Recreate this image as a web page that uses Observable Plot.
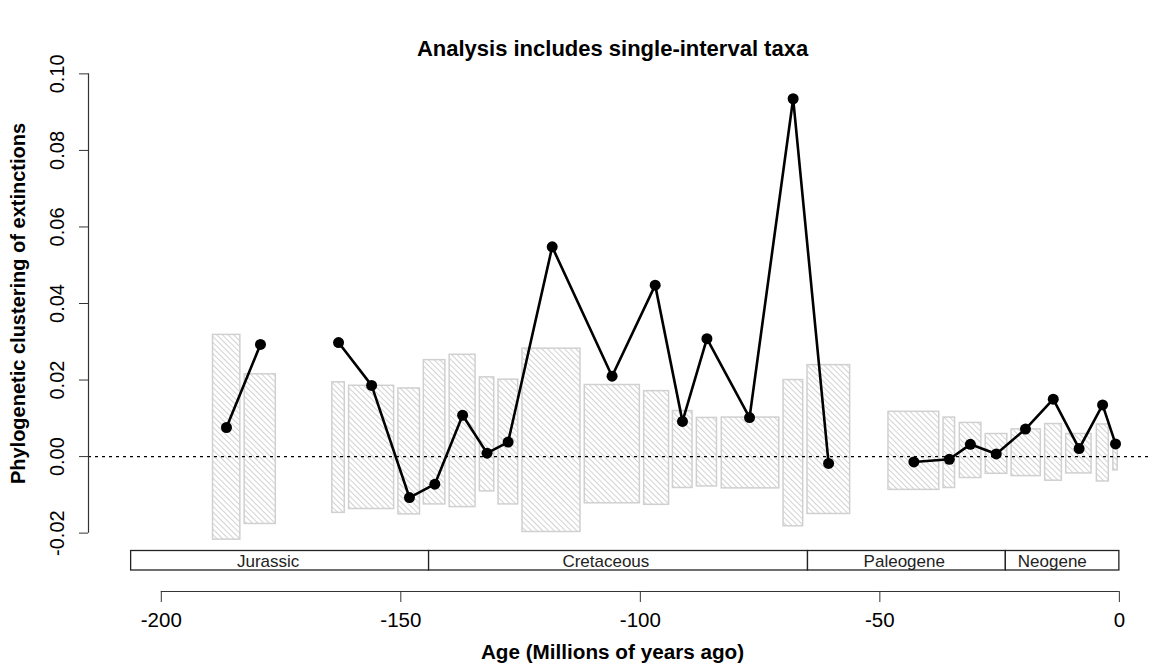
<!DOCTYPE html>
<html><head><meta charset="utf-8">
<script src="https://cdn.jsdelivr.net/npm/d3@7"></script>
<script src="https://cdn.jsdelivr.net/npm/@observablehq/plot@0.6"></script>
<style>
body{margin:0;background:#fff;}
#chart{width:1153px;height:672px;}
</style></head><body>
<svg width="0" height="0" style="position:absolute">
<defs>
<pattern id="hatch" patternUnits="userSpaceOnUse" width="4" height="4" patternTransform="rotate(-45)">
<rect width="4" height="4" fill="#ffffff"/>
<line x1="0" y1="0" x2="0" y2="4" stroke="#b4b4b4" stroke-width="1.2"/>
</pattern>
</defs></svg>
<div id="chart"></div>
<script>
// ---- data ----
const stageStart = [-189.2,-182.6,-164.3,-160.8,-150.5,-145.2,-139.8,-133.5,-129.6,-124.6,-111.6,-99.2,-93.2,-88.2,-83.0,-70.1,-65.1,-48.2,-36.7,-33.3,-27.9,-22.5,-15.5,-11.1,-4.7,-1.25];
const stageEnd   = [-183.5,-176.1,-161.7,-151.4,-146.0,-140.7,-134.4,-130.5,-125.5,-112.5,-100.1,-94.0,-89.1,-84.0,-71.0,-66.0,-56.2,-37.6,-34.3,-28.8,-23.4,-16.4,-12.0,-5.8,-2.2,-0.35];
const nullHigh   = [0.0318,0.0215,0.0194,0.0185,0.0178,0.0252,0.0266,0.0207,0.0201,0.0282,0.0187,0.0171,0.0119,0.0101,0.0102,0.0200,0.0239,0.0117,0.0102,0.0088,0.0059,0.0071,0.0085,0.0059,0.0084,0.0031];
const nullLow    = [-0.0217,-0.0176,-0.0147,-0.0137,-0.0151,-0.0125,-0.0132,-0.0091,-0.0125,-0.0197,-0.0122,-0.0126,-0.0082,-0.0078,-0.0083,-0.0182,-0.0150,-0.0087,-0.0082,-0.0056,-0.0045,-0.0051,-0.0063,-0.0044,-0.0065,-0.0036];
const stageAge   = [-186.4,-179.3,-163.0,-156.1,-148.2,-142.9,-137.1,-132.0,-127.6,-118.4,-105.9,-96.9,-91.2,-86.1,-77.2,-68.1,-60.7,-42.9,-35.5,-31.1,-25.7,-19.6,-13.8,-8.4,-3.5,-0.8];
const clustering = [0.0076,0.0293,0.0298,0.0186,-0.0107,-0.0072,0.0108,0.0009,0.0038,0.0548,0.0210,0.0448,0.0092,0.0308,0.0102,0.0935,-0.0018,-0.0014,-0.0007,0.0032,0.0007,0.0072,0.0150,0.0021,0.0135,0.0033];
const runId      = [1,1,2,2,2,2,2,2,2,2,2,2,2,2,2,2,2,3,3,3,3,3,3,3,3,3];

const eraName    = ["Jurassic","Cretaceous","Paleogene","Neogene"];
const eraStart   = [-206.3,-144.1,-65.0,-23.7];
const eraEnd     = [-144.1,-65.0,-23.7,0];
const eraLabelAt = [-177.7,-107.2,-44.9,-14.0];

const xTicks = [-200,-150,-100,-50,0];
const yTicks = [-0.02,0.00,0.02,0.04,0.06,0.08,0.10];

const titleText = "Analysis includes single-interval taxa";
const xLabel = "Age (Millions of years ago)";
const yLabel = "Phylogenetic clustering of extinctions";

// ---- tables ----
const stages = stageAge.map((a,i)=>({start:stageStart[i], end:stageEnd[i], lo:nullLow[i], hi:nullHigh[i], age:a, v:clustering[i], run:runId[i]}));
const eras = eraName.map((n,i)=>({name:n, start:eraStart[i], end:eraEnd[i], at:eraLabelAt[i]}));

// R-style plot region: data range padded by 4%
const xDomain = [-215.2, 6.5];
const yPad = (0.10 - -0.02)*0.04;
const yDomain = [-0.02 - yPad, 0.10 + yPad];

const font = "Liberation Sans, Arial, Helvetica, sans-serif";

const plot = Plot.plot({
  width: 1153, height: 672,
  marginLeft: 88, marginRight: 3, marginTop: 55, marginBottom: 121,
  style: {fontFamily: font, color: "#000", background: "#fff", overflow: "visible"},
  x: {domain: xDomain},
  y: {domain: yDomain},
  marks: [
    Plot.rect(stages, {x1:"start", x2:"end", y1:"lo", y2:"hi", fill:"url(#hatch)", stroke:"#d0d0d0", strokeWidth:1.5}),
    Plot.ruleY([0], {stroke:"#000", strokeWidth:1.2, strokeDasharray:"3,4"}),
    Plot.line(stages, {x:"age", y:"v", z:"run", stroke:"#000", strokeWidth:2.6, curve:"linear"}),
    Plot.dot(stages, {x:"age", y:"v", r:5.5, fill:"#000", stroke:"none"}),
    Plot.ruleX([xDomain[0]], {y1: yTicks[0], y2: yTicks[yTicks.length-1], stroke:"#333", strokeWidth:1.2}),
    Plot.axisY({ticks: yTicks, tickSize: 9, tickRotate: -90, tickPadding: 16, fontSize: 20, tickFormat: d => d.toFixed(2), label: null, stroke:"#333"}),
    Plot.rect(eras, {x1:"start", x2:"end", y1: yDomain[0], y2: yDomain[0], insetTop: -0.5, insetBottom: -19, fill:"#fff", stroke:"#222", strokeWidth:1.3}),
    Plot.text(eras, {x:"at", y: yDomain[0], dy: 10, text:"name", fontSize: 17, fill:"#222"}),
    Plot.ruleY([yDomain[0]], {x1: xTicks[0], x2: xTicks[xTicks.length-1], dy: 40, stroke:"#333", strokeWidth:1.2}),
    Plot.axisX({ticks: xTicks, tickSize: 11, dy: 40, tickPadding: 10, fontSize: 20.5, tickFormat: d => String(d), label: null, stroke:"#333"}),
    Plot.text([titleText], {frameAnchor:"top", dx: -7, dy: -7, lineAnchor:"middle", fontSize: 22, fontWeight:"bold"}),
    Plot.text([xLabel], {frameAnchor:"bottom", dx: -7, dy: 101, lineAnchor:"middle", fontSize: 20.7, fontWeight:"bold"}),
    Plot.text([yLabel], {frameAnchor:"left", dx: -70, rotate: -90, textAnchor:"middle", lineAnchor:"middle", fontSize: 20, fontWeight:"bold"})
  ]
});
document.getElementById("chart").appendChild(plot);
</script>
</body></html>
